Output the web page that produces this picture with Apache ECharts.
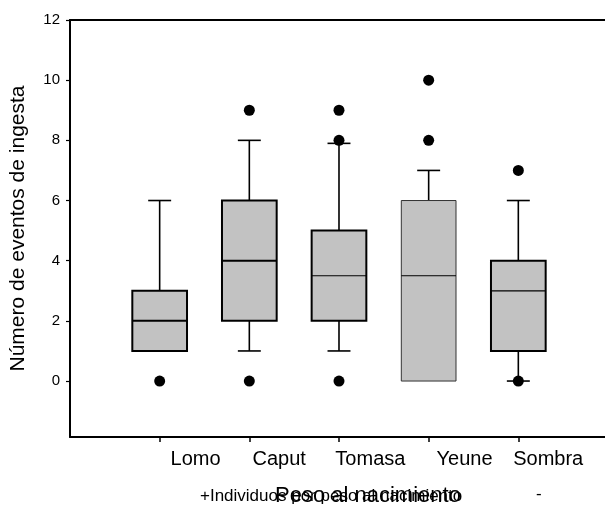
<!DOCTYPE html>
<html>
<head>
<meta charset="utf-8">
<script src="https://cdn.jsdelivr.net/npm/echarts@6/dist/echarts.min.js"></script>
<style>
  html, body { margin: 0; padding: 0; background: #ffffff; }
  #chart { width: 605px; height: 508px; }
</style>
</head>
<body>
<div id="chart"></div>
<script>
// ---- data ----
const categories  = ['Lomo', 'Caput', 'Tomasa', 'Yeune', 'Sombra'];
const whiskerLow  = [1, 1, 1, 0, 0];
const q1          = [1, 2, 2, 0, 1];
const median      = [2, 4, 3.5, 3.5, 3];
const q3          = [3, 6, 5, 6, 4];
const whiskerHigh = [6, 8, 7.9, 7, 6];
const outliers    = [[0], [9, 0], [9, 8, 0], [10, 8], [7, 0]];
const yTicks      = [0, 2, 4, 6, 8, 10, 12];
const yAxisTitle  = 'Número de eventos de ingesta';
const xAxisTitle  = 'Peso al nacimiento';
const legendText  = '+Individuos por peso al nacimiento';
const legendMinus = '-';

// ---- build ----
const catPos = categories.map((c, i) => i + 1);
const boxData = categories.map((c, i) => [catPos[i], whiskerLow[i], q1[i], median[i], q3[i], whiskerHigh[i], i]);
const outlierData = [];
outliers.forEach((arr, i) => arr.forEach(v => outlierData.push([catPos[i], v])));

const boxBorderW = [2, 2, 2, 1, 2];
const medianW    = [2, 2, 1.2, 1, 1.2];
const labelAt    = [1.40, 2.333, 3.35, 4.40, 5.333];
const FONT = '"Liberation Sans", Arial, Helvetica, sans-serif';

const chart = echarts.init(document.getElementById('chart'), null, { renderer: 'canvas' });

function renderBox(params, api) {
  const x = api.value(0);
  const lo = api.value(1), a = api.value(2), m = api.value(3), b = api.value(4), hi = api.value(5);
  const idx = api.value(6);
  const unit = api.size([1, 0])[0];
  const halfW = unit * 0.305;
  const capHalf = unit * 0.128;
  const pLo = api.coord([x, lo]), pA = api.coord([x, a]), pM = api.coord([x, m]);
  const pB = api.coord([x, b]), pHi = api.coord([x, hi]);
  const cx = pA[0];
  const children = [];
  const wStyle = { stroke: '#000', lineWidth: 1.6 };
  if (hi > b) {
    children.push({ type: 'line', shape: { x1: cx, y1: pB[1], x2: cx, y2: pHi[1] }, style: wStyle });
    children.push({ type: 'line', shape: { x1: cx - capHalf, y1: pHi[1], x2: cx + capHalf, y2: pHi[1] }, style: wStyle });
  }
  if (lo < a) {
    children.push({ type: 'line', shape: { x1: cx, y1: pA[1], x2: cx, y2: pLo[1] }, style: wStyle });
    children.push({ type: 'line', shape: { x1: cx - capHalf, y1: pLo[1], x2: cx + capHalf, y2: pLo[1] }, style: wStyle });
  }
  children.push({
    type: 'rect',
    shape: { x: cx - halfW, y: pB[1], width: halfW * 2, height: pA[1] - pB[1] },
    style: { fill: '#c2c2c2', stroke: boxBorderW[idx] > 1.5 ? '#000' : '#333', lineWidth: boxBorderW[idx] }
  });
  children.push({
    type: 'line',
    shape: { x1: cx - halfW, y1: pM[1], x2: cx + halfW, y2: pM[1] },
    style: { stroke: '#000', lineWidth: medianW[idx] }
  });
  return { type: 'group', children };
}

const option = {
  backgroundColor: '#ffffff',
  animation: false,
  grid: { left: 68, right: 0, top: 20, bottom: 71, containLabel: false },
  xAxis: [{
    type: 'value', min: 0, max: 537 / 90,
    axisLine: { show: true, onZero: false, lineStyle: { color: '#000', width: 2 } },
    axisTick: { show: true, customValues: catPos, length: 5, inside: false, lineStyle: { color: '#000', width: 1.5 } },
    axisLabel: {
      show: true, customValues: labelAt, margin: 12,
      color: '#000', fontSize: 20, fontFamily: FONT,
      formatter: v => categories[Math.round(v - 0.35) - 1] || ''
    },
    splitLine: { show: false }
  }, {
    type: 'value', min: 0, max: 537 / 90, position: 'top',
    axisLine: { show: true, onZero: false, lineStyle: { color: '#000', width: 2 } },
    axisTick: { show: false }, axisLabel: { show: false }, splitLine: { show: false }
  }],
  yAxis: {
    type: 'value', min: -1.86, max: 12,
    name: yAxisTitle, nameLocation: 'middle', nameGap: 41, nameRotate: 90,
    nameTextStyle: { color: '#000', fontSize: 21, fontFamily: FONT },
    axisLine: { show: true, onZero: false, lineStyle: { color: '#000', width: 2 } },
    axisTick: { show: true, customValues: yTicks, length: 4, lineStyle: { color: '#000', width: 1.2 } },
    axisLabel: { show: true, customValues: yTicks, margin: 10, color: '#000', fontSize: 15, fontFamily: FONT },
    splitLine: { show: false }
  },
  series: [{
    type: 'custom',
    renderItem: renderBox,
    encode: { x: 0, y: [1, 2, 3, 4, 5] },
    data: boxData,
    z: 2
  }, {
    type: 'scatter',
    data: outlierData,
    symbol: 'circle',
    symbolSize: 11,
    itemStyle: { color: '#000', opacity: 1 },
    z: 3
  }],
  graphic: [{
    type: 'text', left: 200, top: 488,
    style: { text: legendText, fontSize: 17, fontFamily: FONT, fill: '#000' }
  }, {
    type: 'text', left: 275, top: 485,
    style: { text: xAxisTitle, fontSize: 22, fontFamily: FONT, fill: '#000' }
  }, {
    type: 'text', left: 536, top: 486,
    style: { text: legendMinus, fontSize: 17, fontFamily: FONT, fill: '#000' }
  }]
};
chart.setOption(option);
</script>
</body>
</html>
